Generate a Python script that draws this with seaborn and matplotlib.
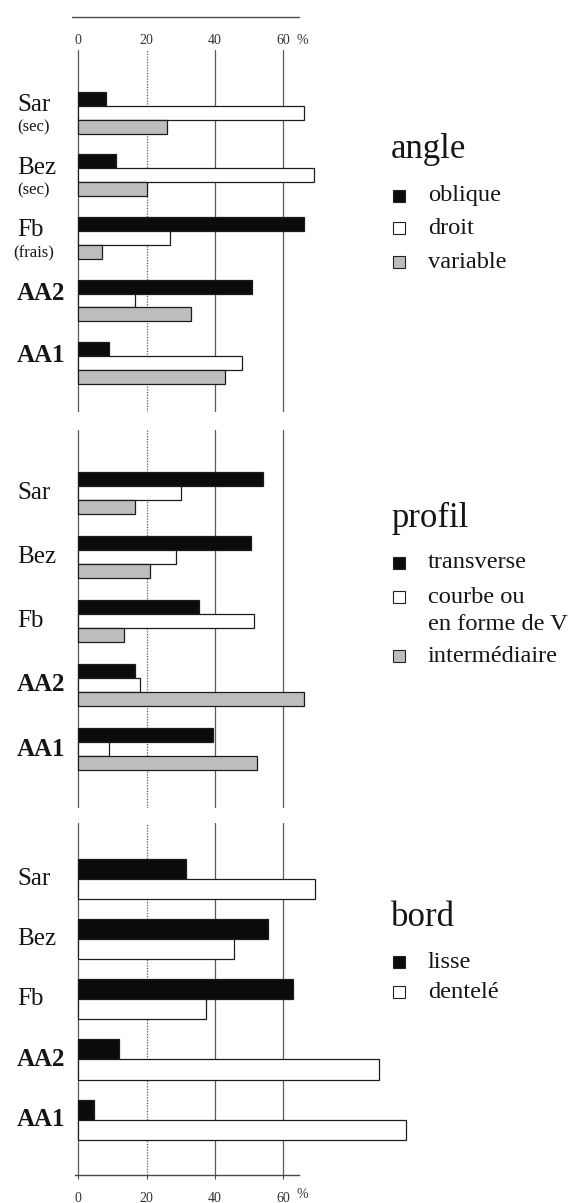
import numpy as np
import pandas as pd
import matplotlib
matplotlib.use("Agg")
import matplotlib.pyplot as plt
from matplotlib.patches import Rectangle
from matplotlib.transforms import blended_transform_factory
import seaborn as sns

# ---- data -------------------------------------------------------------
sites = ["Sar", "Bez", "Fb", "AA2", "AA1"]
site_states = ["(sec)", "(sec)", "(frais)", "", ""]
bold_sites = ["AA2", "AA1"]

angle_levels = ["oblique", "droit", "variable"]
angle_oblique = [8, 11, 66, 51, 9]
angle_droit = [66, 69, 27, 16.5, 48]
angle_variable = [26, 20, 7, 33, 43]

profil_levels = ["transverse", "courbe ou\nen forme de V", "intermédiaire"]
profil_transverse = [54, 50.5, 35.5, 16.5, 39.5]
profil_courbe = [30, 28.5, 51.5, 18, 9]
profil_intermediaire = [16.5, 21, 13.5, 66, 52.5]

bord_levels = ["lisse", "dentelé"]
bord_lisse = [31.5, 55.5, 63, 12, 4.5]
bord_dentele = [69.5, 45.5, 37.5, 88, 96]

tick_values = [0, 20, 40, 60]
tick_labels = ["0", "20", "40", "60"]
unit_label = "%"

fills = ["#0b0b0b", "#ffffff", "#bdbdbd"]


def long_table(levels, series):
    rows = []
    for level, values in zip(levels, series):
        for site, v in zip(sites, values):
            rows.append({"site": site, "level": level, "pct": v})
    return pd.DataFrame(rows)


angle_df = long_table(angle_levels, [angle_oblique, angle_droit, angle_variable])
profil_df = long_table(profil_levels, [profil_transverse, profil_courbe, profil_intermediaire])
bord_df = long_table(bord_levels, [bord_lisse, bord_dentele])

# ---- figure -------------------------------------------------------------
sns.set_theme(style="white")
plt.rcParams["font.family"] = ["Liberation Serif", "DejaVu Serif"]
plt.rcParams["text.color"] = "#151515"

W, H = 570, 1203
fig = plt.figure(figsize=(W / 100, H / 100), dpi=100)
fig.patch.set_facecolor("white")


def fx(px):
    return px / W


def fy(py):
    return 1 - py / H


X_LEFT, X_WIDTH = 71.5, 348.0
XLIM = (-2, 100)


def make_axes(top, bottom):
    return fig.add_axes([fx(X_LEFT), fy(bottom), X_WIDTH / W, (bottom - top) / H])


ax1 = make_axes(50, 412)
ax2 = make_axes(430, 808)
ax3 = make_axes(823, 1175)

GRID = "#5a5a5a"


def panel(ax, df, levels, bar_width, ylim):
    sns.barplot(
        data=df, x="pct", y="site", hue="level",
        order=sites, hue_order=levels,
        palette=fills[:len(levels)], saturation=1,
        orient="h", width=bar_width, dodge=True,
        edgecolor="#1c1c1c", linewidth=0.9,
        errorbar=None, legend=False, ax=ax,
    )
    ax.set_xlim(*XLIM)
    ax.set_ylim(*ylim)
    for t in tick_values:
        ax.axvline(t, color=GRID, lw=0.9,
                   ls=(0, (1, 1.2)) if t == 20 else "-", zorder=0.5)
    for s in ax.spines.values():
        s.set_visible(False)
    ax.set_xticks([])
    ax.set_yticks([])
    ax.set_xlabel("")
    ax.set_ylabel("")
    ax.patch.set_alpha(0)


panel(ax1, angle_df, angle_levels, 0.667, (4.78, -1.0))
panel(ax2, profil_df, profil_levels, 0.656, (4.92, -0.98))
panel(ax3, bord_df, bord_levels, 0.667, (4.92, -0.93))


# ---- site labels ------------------------------------------------------
def site_labels(ax, name_shift, state_shift=None):
    tr = blended_transform_factory(fig.transFigure, ax.transData)
    for i, (site, state) in enumerate(zip(sites, site_states)):
        weight = "bold" if site in bold_sites else "normal"
        ax.text(fx(17), i + name_shift, site, transform=tr, ha="left",
                va="center", fontsize=18, fontweight=weight)
        if state_shift is not None and state:
            ax.text(fx(34), i + state_shift, state, transform=tr,
                    ha="center", va="center", fontsize=12)


site_labels(ax1, -0.12, 0.24)
site_labels(ax2, 0.0)
site_labels(ax3, 0.0)

# ---- top scale ------------------------------------------------------------
top_tr = blended_transform_factory(ax1.transData, fig.transFigure)
ax1.plot([-1.8, 64.6], [fy(17), fy(17)], transform=top_tr, clip_on=False,
         color="#4a4a4a", lw=1.0)
for t, lbl in zip(tick_values, tick_labels):
    ax1.text(t, fy(40), lbl, transform=top_tr, ha="center", va="center",
             fontsize=10, color="#333333")
ax1.text(65.6, fy(40), unit_label, transform=top_tr, ha="center",
         va="center", fontsize=10, color="#333333")

# ---- bottom scale ---------------------------------------------------------
ax3.spines["bottom"].set_visible(True)
ax3.spines["bottom"].set_bounds(-1, 64.6)
ax3.spines["bottom"].set_color("#4a4a4a")
ax3.spines["bottom"].set_linewidth(1.0)
ax3.set_xticks(tick_values)
ax3.set_xticklabels(tick_labels)
ax3.tick_params(axis="x", bottom=True, direction="out", length=3,
                width=0.8, color="#4a4a4a", pad=9, labelsize=10,
                labelcolor="#333333")
bot_tr = blended_transform_factory(ax3.transData, fig.transFigure)
ax3.text(65.6, fy(1195), unit_label, transform=bot_tr, ha="center",
         va="center", fontsize=10, color="#333333")


# ---- keys -----------------------------------------------------------------
def key(title, title_y, entries):
    fig.text(fx(391), fy(title_y), title, ha="left", va="center", fontsize=25)
    for lines, color, y in entries:
        fig.patches.append(Rectangle(
            (fx(393), fy(y + 6)), 12 / W, 12 / H, transform=fig.transFigure,
            facecolor=color, edgecolor="#222222", lw=0.8))
        for k, line in enumerate(lines.split("\n")):
            fig.text(fx(428), fy(y + 28 * k), line, ha="left", va="center",
                     fontsize=17.6)


key("angle", 149, list(zip(angle_levels, fills, [196, 228, 262])))
key("profil", 518, list(zip(profil_levels, fills, [563, 597, 656])))
key("bord", 917, list(zip(bord_levels, fills, [962, 992])))

fig.savefig("out.png", dpi=100, facecolor="white")
